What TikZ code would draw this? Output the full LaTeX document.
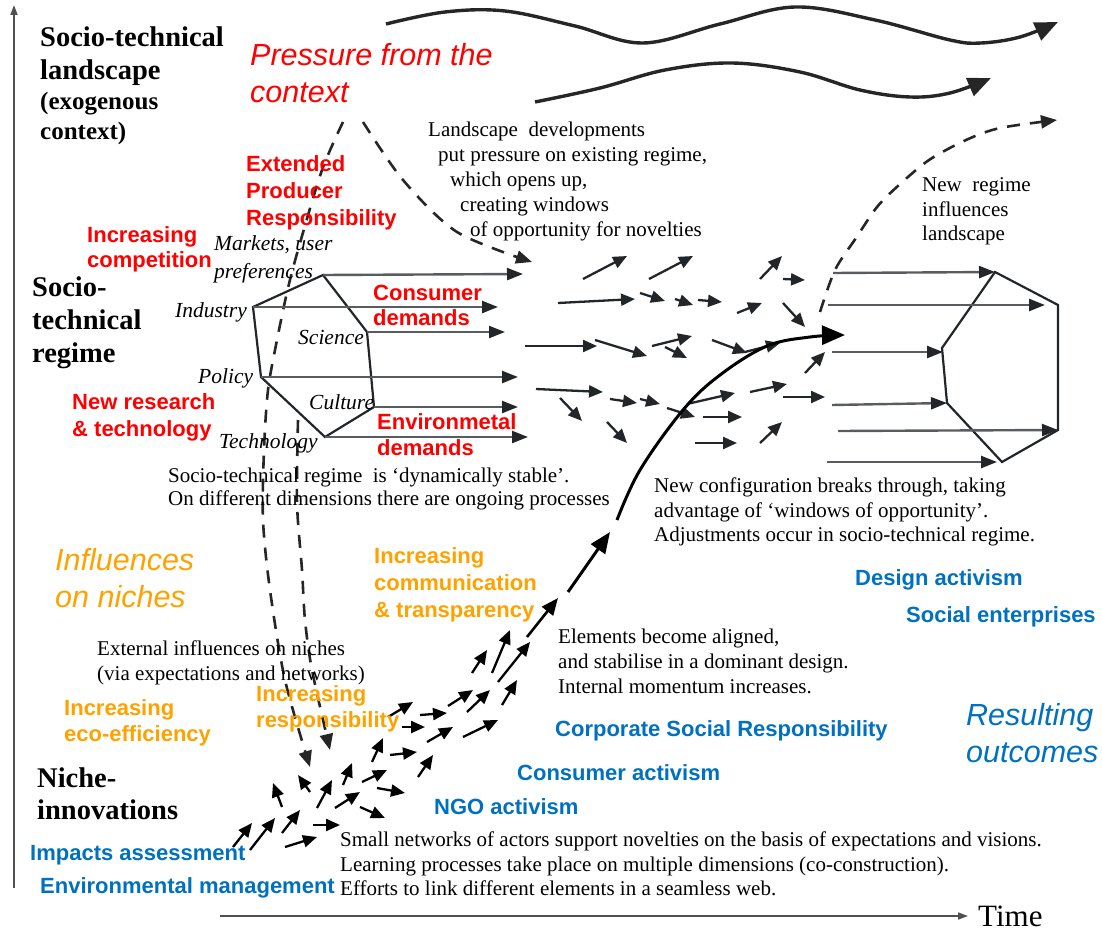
\documentclass[tikz,border=0pt]{standalone}
\usepackage{fontspec}
\setmainfont{Liberation Serif}
\setsansfont{Liberation Sans}
\usetikzlibrary{arrows.meta}
\definecolor{cred}{RGB}{255,0,0}
\definecolor{corange}{RGB}{255,162,0}
\definecolor{cblue}{RGB}{0,112,192}
\definecolor{cdark}{RGB}{34,38,40}
\definecolor{caxis}{RGB}{80,80,80}
\begin{document}
\begin{tikzpicture}[x=1pt,y=-1pt,
  body/.style={anchor=west,inner sep=0pt,align=left,font=\fontsize{21}{24.5}\selectfont},
  lab/.style={anchor=west,inner sep=0pt,align=left,font=\itshape\fontsize{21.5}{28}\selectfont},
  head/.style={anchor=west,inner sep=0pt,align=left,font=\bfseries\fontsize{28.5}{33}\selectfont},
  sbold/.style={anchor=west,inner sep=0pt,align=left,font=\sffamily\bfseries\fontsize{22}{26.5}\selectfont},
  sital/.style={anchor=west,inner sep=0pt,align=left,font=\sffamily\itshape\fontsize{30.5}{37}\selectfont},
  redt/.style={sbold,text=cred},
  orat/.style={sbold,text=corange},
  blut/.style={sbold,text=cblue},
  sarrow/.style={draw=cdark,line width=2.3pt,-{Triangle[length=14pt,width=12pt]}},
  narrow/.style={draw=black,line width=2.3pt,-{Triangle[length=14pt,width=12pt]}},
  rarrow/.style={draw=cdark!75,line width=2.4pt,-{Triangle[length=16pt,width=12pt,color=cdark]}},
  dasharrow/.style={draw=black!85,line width=2.6pt,dash pattern=on 13pt off 10pt,-{Triangle[length=16pt,width=13pt]}},
  wave/.style={draw=black!85,line width=3.4pt,-{Triangle[length=23pt,width=19pt]}},
  hexa/.style={draw=cdark,line width=2.2pt,line join=miter},
  axis/.style={draw=caxis,line width=1.7pt,-{Triangle[length=10pt,width=7pt]}}
]
\useasboundingbox (0,0) rectangle (1102,931);

% axes
\coordinate (vaxb) at (14,888); \coordinate (vaxt) at (14,5);
\draw[axis] (vaxb) -- (vaxt);
\coordinate (taxl) at (220,916); \coordinate (taxr) at (968,916);
\draw[axis] (taxl) -- (taxr);
\node[anchor=west,inner sep=0pt,font=\fontsize{31}{31}\selectfont] (time) at (978,916) {Time};

% landscape waves
\draw[wave] plot[smooth,tension=0.6] coordinates {(386,24) (445,12) (505,11) (575,26) (643,43) (720,24) (795,7) (875,20) (950,40) (981,43) (1020,37) (1058,22)};
\draw[wave] plot[smooth,tension=0.6] coordinates {(535,102) (600,88) (665,70) (732,63) (800,72) (860,90) (910,97) (950,93) (991,78)};

% dashed influences
\draw[dasharrow] plot[smooth] coordinates {(820,312) (835,270) (856,238) (877,207) (899,185) (929,160) (966,140) (1000,128) (1057,120)};
\draw[dasharrow] plot[smooth] coordinates {(343,122) (322,170) (300,243) (288,288) (277,340) (268,390) (264,450) (263,520) (270,590) (285,680) (310,767)};
\draw[dasharrow] plot[smooth] coordinates {(363,122) (403,180) (457,232) (532,262)};
\draw[dasharrow] plot[smooth] coordinates {(298,420) (297,503) (302,570) (305,620) (312,670) (330,750)};

% left regime hexagon
\coordinate (mk) at (323,275); \coordinate (sc) at (367,332); \coordinate (cu) at (374,407);
\coordinate (te) at (325,437); \coordinate (po) at (261,377); \coordinate (in) at (253,307);
\draw[hexa] (mk) -- (sc) -- (cu) -- (te) -- (po) -- (in) -- cycle;
\draw[rarrow] (mk) -- (523,274);
\draw[rarrow] (in) -- (498,307);
\draw[rarrow] (sc) -- (505,332);
\draw[rarrow] (po) -- (518,377);
\draw[rarrow] (cu) -- (518,407);
\draw[rarrow] (te) -- (528,437);

% right regime hexagon
\coordinate (h1) at (995,272); \coordinate (h2) at (1058,305); \coordinate (h3) at (1058,430);
\coordinate (h4) at (1002,462); \coordinate (h5) at (947,403); \coordinate (h6) at (942,348);
\draw[hexa] (h1) -- (h2) -- (h3) -- (h4) -- (h5) -- (h6) -- cycle;
\draw[rarrow] (833,273) -- (h1);
\draw[rarrow] (828,305) -- (1045,305);
\draw[rarrow] (832,352) -- (943,352);
\draw[rarrow] (832,405) -- (h5);
\draw[rarrow] (838,431) -- (h3);
\draw[rarrow] (827,462) -- (997,462);

% middle small arrows
\foreach \a/\b/\c/\d in {583/279/627/256, 649/279/693/256, 760/279/782/256, 783/279/805/280,
  558/303/635/299, 640/293/665/301, 675/299/693/305, 698/300/722/302, 737/313/762/303, 783/303/805/327,
  525/346/597/346, 595/340/647/356, 652/346/692/336, 665/347/687/358, 712/340/747/353, 745/352/780/343, 805/373/825/352,
  536/389/603/392, 560/398/582/421, 610/399/637/403, 640/399/660/404, 667/408/695/417, 687/404/735/393,
  703/417/742/417, 750/392/787/384, 783/397/825/397, 607/422/627/443, 695/443/737/443, 760/443/782/422}
  \draw[sarrow] (\a,\b) -- (\c,\d);

% niche arrows
\foreach \a/\b/\c/\d in {233/847/252/823, 250/850/275/818, 285/847/317/837, 282/833/300/810, 313/825/340/825,
  282/807/273/783, 317/808/332/780, 310/792/298/775, 335/808/360/792, 343/785/352/763, 360/807/385/818,
  362/782/387/770, 377/788/405/793, 372/762/383/738, 390/755/417/752, 418/777/433/755, 388/717/413/702,
  402/727/425/727, 420/715/447/713, 427/742/453/727, 463/737/498/720, 448/706/473/690, 467/712/490/690,
  502/705/517/680, 472/673/487/650, 492/673/510/630, 498/682/530/642}
  \draw[narrow] (\a,\b) -- (\c,\d);

% breakthrough chain
\draw[draw=black,line width=2.6pt,-{Triangle[length=17pt,width=14pt]}] (527,637) -- (558,598);
\draw[draw=black,line width=3pt,-{Triangle[length=21pt,width=17pt]}] (568,592) -- (610,532);
\draw[draw=black,line width=3pt,-{Triangle[length=23pt,width=19pt]}] plot[smooth,tension=0.6] coordinates {(617,520) (640,470) (683,410) (720,375) (767,346) (810,337) (845,335)};

% headings
\node[head,font=\bfseries\fontsize{28.5}{33}\selectfont] (landh) at (40,56.5) {Socio-technical\\landscape};
\node[head,font=\bfseries\fontsize{25}{30}\selectfont] (exo) at (40,118) {(exogenous\\context)};
\node[head] (regh) at (32,323) {Socio-\\technical\\regime};
\node[head,font=\bfseries\fontsize{28.5}{32}\selectfont] (nicheh) at (37,794) {Niche-\\innovations};

% regime labels
\node[lab] (markets) at (214,259) {Markets, user\\preferences};
\node[lab] (industry) at (175,312) {Industry};
\node[lab] (science) at (298,337) {Science};
\node[lab] (policy) at (198,378) {Policy};
\node[lab] (culture) at (309,402) {Culture};
\node[lab] (technology) at (219,443) {Technology};

% body texts
\node[body,font=\fontsize{21}{25}\selectfont] (landdev) at (428,181.5) {Landscape\ \ developments\\\hspace*{10pt}put pressure on existing regime,\\\hspace*{22pt}which opens up,\\\hspace*{32pt}creating windows\\\hspace*{42pt}of opportunity for novelties};
\node[body] (newreg) at (922,211.5) {New\ \ regime\\influences\\landscape};
\node[body,font=\fontsize{21}{23}\selectfont] (stable) at (168,488.5) {Socio-technical regime\ \ is ‘dynamically stable’.\\On different dimensions there are ongoing processes};
\node[body] (newconf) at (654,512) {New configuration breaks through, taking\\advantage of ‘windows of opportunity’.\\Adjustments occur in socio-technical regime.};
\node[body,font=\fontsize{21}{25}\selectfont] (aligned) at (558,661) {Elements become aligned,\\and stabilise in a dominant design.\\Internal momentum increases.};
\node[body,font=\fontsize{21}{25}\selectfont] (external) at (97,662.5) {External influences on niches\\(via expectations and networks)};
\node[body] (small) at (340,864) {Small networks of actors support novelties on the basis of expectations and visions.\\Learning processes take place on multiple dimensions (co-construction).\\Efforts to link different elements in a seamless web.};

% red labels
\node[sital,text=cred] (pressure) at (250,73.5) {Pressure from the\\context};
\node[redt,font=\sffamily\bfseries\fontsize{22}{27}\selectfont] (epr) at (246,193) {Extended\\Producer\\Responsibility};
\node[redt,font=\sffamily\bfseries\fontsize{22}{25}\selectfont] (comp) at (87,249.5) {Increasing\\competition};
\node[redt,font=\sffamily\bfseries\fontsize{22}{25}\selectfont] (consd) at (373,305.5) {Consumer\\demands};
\node[redt,font=\sffamily\bfseries\fontsize{22}{27}\selectfont] (newres) at (72,417.5) {New research\\\& technology};
\node[redt,font=\sffamily\bfseries\fontsize{22}{26}\selectfont] (envd) at (377,435) {Environmetal\\demands};

% orange labels
\node[sital,text=corange] (infl) at (55,578.5) {Influences\\on niches};
\node[orat,font=\sffamily\bfseries\fontsize{22}{27}\selectfont] (comm) at (374,585) {Increasing\\communication\\\& transparency};
\node[orat] (eco) at (64,723) {Increasing\\eco-efficiency};
\node[orat] (resp) at (256,709) {Increasing\\responsibility};

% blue labels
\node[blut] (design) at (855,580) {Design activism};
\node[blut] (social) at (906,617) {Social enterprises};
\node[sital,text=cblue] (result) at (966,733.5) {Resulting\\outcomes};
\node[blut] (csr) at (555,731) {Corporate Social Responsibility};
\node[blut] (consa) at (517,773) {Consumer activism};
\node[blut] (ngo) at (434,807) {NGO activism};
\node[blut] (impact) at (30,855) {Impacts assessment};
\node[blut] (envm) at (40,888) {Environmental management};
\end{tikzpicture}
\end{document}
